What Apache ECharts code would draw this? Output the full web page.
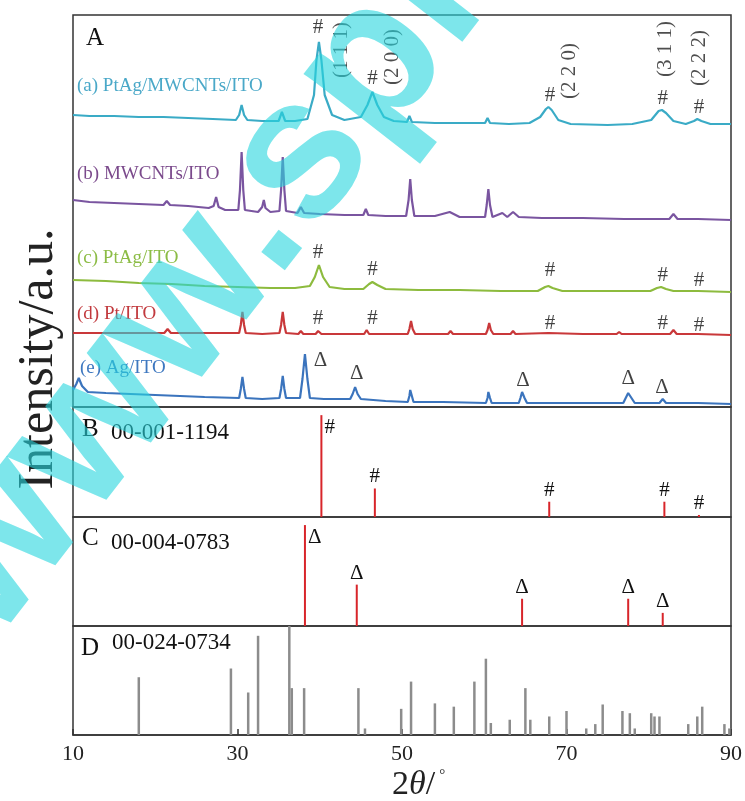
<!DOCTYPE html>
<html>
<head>
<meta charset="utf-8">
<title>XRD patterns</title>
<script src="https://cdn.jsdelivr.net/npm/echarts@6/dist/echarts.min.js"></script>
<style>
html, body { margin: 0; padding: 0; background: #fff; }
#chart { width: 745px; height: 801px; }
</style>
</head>
<body>
<div id="chart"></div>
<script>
// ---- panel A : measured patterns, [2theta, intensity above own baseline] ----
var traceNames = ['(a) PtAg/MWCNTs/ITO', '(b) MWCNTs/ITO', '(c) PtAg/ITO', '(d) Pt/ITO', '(e) Ag/ITO']
var traceA = [[10,10],[12,9],[15,9],[18,8],[21,8],[24,7],[27,6],[29.8,5],[30.2,10],[30.5,20],[30.8,10],[31.2,5],[33,4],[35,4],[35.4,13],[35.8,4],[37,4],[38.5,6],[39.3,30],[39.6,65],[39.9,83],[40.2,65],[40.6,30],[41.5,10],[43,5],[45,8],[45.8,20],[46.4,33],[47,20],[47.8,8],[49,4],[50.6,3],[50.9,9],[51.2,3],[54,2],[57,2],[60.1,2],[60.4,7],[60.7,2],[63,1],[65.5,2],[66.8,8],[67.5,16],[67.8,18],[68.2,15],[69,5],[70.5,1],[75,0],[78,1],[80.3,5],[81.2,14],[81.6,15],[82.1,12],[83,4],[84.5,1],[85.5,4],[85.9,6],[86.4,4],[87.5,1],[90,1]]
var traceB = [[10,20],[12,18],[15,17],[18,16],[21,15],[21.4,19],[21.8,15],[24,14],[26.5,12],[27.1,14],[27.4,23],[27.7,13],[28.5,10],[30.1,10],[30.3,30],[30.5,68],[30.7,30],[30.9,10],[32.5,8],[33.0,13],[33.2,20],[33.4,12],[34,8],[35.1,9],[35.3,30],[35.5,63],[35.7,30],[35.9,9],[37.3,7],[37.7,13],[38.1,7],[40,6],[43,5],[45.3,5],[45.6,11],[45.9,5],[48,4],[50.5,4],[50.8,20],[51.0,41],[51.2,20],[51.5,4],[54,4],[55.8,8],[57,3],[60.1,3],[60.3,15],[60.5,31],[60.7,15],[61,3],[62.2,7],[62.8,3],[63.5,8],[64.2,3],[67,2],[72,2],[77,1],[82.5,1],[83,6],[83.5,1],[86,1],[90,0]]
var traceC = [[10,12],[14,11],[18,9],[22,8],[26,6],[30,5],[34,4],[37,4],[38.8,6],[39.4,15],[39.9,27],[40.4,15],[41.2,5],[43,3],[45.3,3],[46,8],[46.4,10],[47,7],[48,3],[52,2],[57,2],[62,1],[66.5,1],[67.4,5],[67.8,6],[68.3,4],[69.5,1],[75,1],[80.2,1],[81,4],[81.5,5],[82.1,3],[83,1],[86,1],[90,0]]
var traceD = [[10,2],[15,2],[21.1,2],[21.5,6],[21.9,2],[25,2],[30.2,2],[30.4,10],[30.6,23],[30.8,10],[31,2],[33,1],[35.1,2],[35.3,10],[35.5,23],[35.7,10],[35.9,2],[37.4,1],[37.7,4],[38,1],[39.5,1],[39.8,4],[40.2,1],[45.4,1],[45.7,5],[46,1],[50.7,1],[50.9,6],[51.1,14],[51.3,6],[51.6,1],[55.6,1],[55.9,4],[56.2,1],[60.2,1],[60.4,5],[60.6,12],[60.8,5],[61.1,1],[63.2,1],[63.5,4],[63.8,1],[67.8,2],[72,1],[76.1,1],[76.4,3],[76.7,1],[82.6,1],[83.0,5],[83.4,1],[86,1],[90,0]]
var traceE = [[10,14],[10.4,20],[10.7,26],[11.1,18],[11.8,12],[14,11],[17,10],[20,9],[23,8],[26,7],[30.2,6],[30.4,15],[30.6,27],[30.8,15],[31,6],[33,5],[35.1,6],[35.3,15],[35.5,28],[35.7,15],[35.9,6],[37.6,6],[37.9,25],[38.2,50],[38.5,25],[38.8,6],[40.5,5],[43.7,5],[44.0,10],[44.3,17],[44.6,10],[45,5],[48,3],[50.7,2],[50.9,8],[51.0,14],[51.2,8],[51.4,2],[55,2],[60.2,1],[60.4,6],[60.5,12],[60.7,6],[60.9,1],[64.2,1],[64.4,6],[64.6,12],[64.9,6],[65.2,1],[70,1],[76.9,1],[77.2,6],[77.5,11],[77.9,6],[78.3,1],[81.3,1],[81.7,5],[82.1,1],[86,1],[90,0]]
var traceOffsets = [282, 187, 115, 72, 3]

// peak markers in panel A  [2theta, height, text]
var hashA = [[39.8,380,'#'],[46.4,329,'#'],[68.0,312,'#'],[81.7,309,'#'],[86.1,300,'#'],
  [39.8,155,'#'],[46.4,138,'#'],[68.0,137,'#'],[81.7,132,'#'],[86.1,127,'#'],
  [39.8,89,'#'],[46.4,89,'#'],[68.0,84,'#'],[81.7,84,'#'],[86.1,82,'#'],
  [40.1,47,'Δ'],[44.5,34,'Δ'],[64.7,27,'Δ'],[77.5,29,'Δ'],[81.6,20,'Δ']]
var hklA = [[42.7,357,'(1 1 1)'],[48.9,350,'(2 0 0)'],[70.4,336,'(2 2 0)'],[82.0,358,'(3 1 1)'],[86.2,349,'(2 2 2)']]

// ---- panels B, C, D : reference cards ----
var ptPos = [40.2, 46.7, 67.9, 81.9, 86.1]
var ptInt = [100, 28, 15, 15, 2]
var agPos = [38.2, 44.5, 64.6, 77.5, 81.7]
var agInt = [100, 41, 27, 27, 13]
var itoPos = [18.0, 29.2, 31.3, 32.5, 36.3, 36.6, 38.1, 44.7, 45.5, 49.9, 51.1, 54.0, 56.3, 58.8, 60.2, 60.8, 63.1, 65.0, 65.6, 67.9, 70.0, 72.4, 73.5, 74.4, 76.8, 77.7, 78.3, 80.3, 80.7, 81.3, 84.8, 85.9, 86.5, 89.2, 89.8]
var itoInt = [53, 61, 39, 91, 100, 43, 43, 43, 6, 24, 49, 29, 26, 49, 70, 11, 14, 43, 14, 17, 22, 6, 10, 28, 22, 20, 6, 20, 17, 17, 10, 17, 26, 10, 6]
var xTicks = [10, 30, 50, 70, 90]

var serif = '"Liberation Serif", "Times New Roman", serif'
var traceColors = ['#3aabc6', '#7a55a0', '#8dbb3e', '#c9383a', '#3b74bd']

var chart = echarts.init(document.getElementById('chart'))

var grids = [
  { left: 73, right: 14, top: 15, height: 392 },
  { left: 73, right: 14, top: 407, height: 110 },
  { left: 73, right: 14, top: 517, height: 109 },
  { left: 73, right: 14, top: 626, height: 109 }
].map(function (g) {
  return Object.assign({ show: true, borderColor: '#333', borderWidth: 1.5, backgroundColor: 'transparent' }, g)
})

var xAxes = grids.map(function (g, i) {
  var last = i === 3
  return {
    type: 'value', gridIndex: i, min: xTicks[0], max: xTicks[xTicks.length - 1], interval: 20,
    show: last,
    splitLine: { show: false },
    axisLine: { show: last, lineStyle: { color: '#333', width: 1.5 } },
    axisTick: { show: last, inside: true, length: 6, lineStyle: { color: '#333', width: 1.5 } },
    axisLabel: { show: last, fontFamily: serif, fontSize: 22, color: '#222', margin: 8 }
  }
})
var yMax = [392, 108, 108, 100]
var yAxes = yMax.map(function (m, i) {
  return { type: 'value', gridIndex: i, min: 0, max: m, show: false, splitLine: { show: false } }
})

var series = []
var traces = [traceA, traceB, traceC, traceD, traceE]
traces.forEach(function (t, i) {
  series.push({
    type: 'line', xAxisIndex: 0, yAxisIndex: 0, showSymbol: false, silent: true,
    lineStyle: { color: traceColors[i], width: 2.2 },
    data: t.map(function (p) { return [p[0], p[1] + traceOffsets[i]] })
  })
})

var markLabel = { show: true, position: 'inside', fontFamily: serif, fontSize: 21, color: '#111' }
series.push({
  type: 'scatter', xAxisIndex: 0, yAxisIndex: 0, symbolSize: 2, itemStyle: { color: 'rgba(0,0,0,0)' }, silent: true,
  label: Object.assign({}, markLabel, { formatter: function (p) { return p.value[2] } }),
  data: hashA
})
series.push({
  type: 'scatter', xAxisIndex: 0, yAxisIndex: 0, symbolSize: 2, itemStyle: { color: 'rgba(0,0,0,0)' }, silent: true,
  label: Object.assign({}, markLabel, { rotate: 90, fontSize: 21, color: '#222', formatter: function (p) { return p.value[2] } }),
  data: hklA
})

function sticks (pos, ints, gi, color, width, mark) {
  return {
    type: 'bar', xAxisIndex: gi, yAxisIndex: gi, barWidth: width, silent: true,
    itemStyle: { color: color },
    label: mark ? { show: true, position: 'top', distance: 1, formatter: mark, fontFamily: serif, fontSize: 21, color: '#111' } : { show: false },
    data: pos.map(function (x, i) {
      var d = { value: [x, ints[i]] }
      if (mark && i === 0) {
        d.label = { position: [4, 2], align: 'left', verticalAlign: 'top' }
      }
      return d
    })
  }
}
series.push(sticks(ptPos, ptInt, 1, '#d8252a', 2, '#'))
series.push(sticks(agPos, agInt, 2, '#d8252a', 2, 'Δ'))
series.push(sticks(itoPos, itoInt, 3, '#8c8c8c', 2.5, null))

var textEls = []
function txt (left, top, text, size, color, extra) {
  textEls.push(Object.assign({
    type: 'text', x: left, y: top, silent: true,
    style: { text: text, font: size + 'px ' + serif, fill: color, verticalAlign: 'middle' }
  }, extra || {}))
}
txt(86, 38, 'A', 25, '#111')
txt(82, 429, 'B', 25, '#111')
txt(111, 433, '00-001-1194', 23, '#111')
txt(82, 538, 'C', 25, '#111')
txt(111, 543, '00-004-0783', 23, '#111')
txt(81, 648, 'D', 25, '#111')
txt(112, 643, '00-024-0734', 23, '#111')
var labelPos = [[77, 86], [77, 174], [77, 258], [77, 314], [80, 368]]
var labelColors = ['#4aa8c8', '#7b4a8c', '#8cbc45', '#c23a3e', '#3e78c0']
traceNames.forEach(function (n, i) {
  txt(labelPos[i][0], labelPos[i][1], n, 19, labelColors[i])
})

textEls.push({
  type: 'text', x: 39, y: 359, rotation: Math.PI / 2, silent: true,
  style: { text: 'Intensity/a.u.', font: '50px ' + serif, fill: '#222', align: 'center', verticalAlign: 'middle' }
})
textEls.push({
  type: 'text', x: 392, y: 768, silent: true,
  style: {
    text: '{n|2}{t|θ}{n|/}{d|°}',
    rich: {
      n: { fontFamily: serif, fontSize: 34, fill: '#222' },
      t: { fontFamily: serif, fontSize: 34, fontStyle: 'italic', fill: '#222' },
      d: { fontFamily: serif, fontSize: 15, fill: '#222', verticalAlign: 'top', padding: [0, 0, 16, 4] }
    }
  }
})
// watermark
textEls.push({
  type: 'text', x: 30, y: 671, rotation: 0.91, silent: true, z: 100,
  style: { text: 'www.spm.com.cn', font: 'bold 200px "Liberation Sans", Arial, sans-serif', fill: 'rgba(38,213,222,0.6)', verticalAlign: 'bottom' }
})

chart.setOption({
  animation: false,
  backgroundColor: '#fff',
  grid: grids,
  xAxis: xAxes,
  yAxis: yAxes,
  series: series,
  graphic: { elements: textEls }
})
</script>
</body>
</html>
